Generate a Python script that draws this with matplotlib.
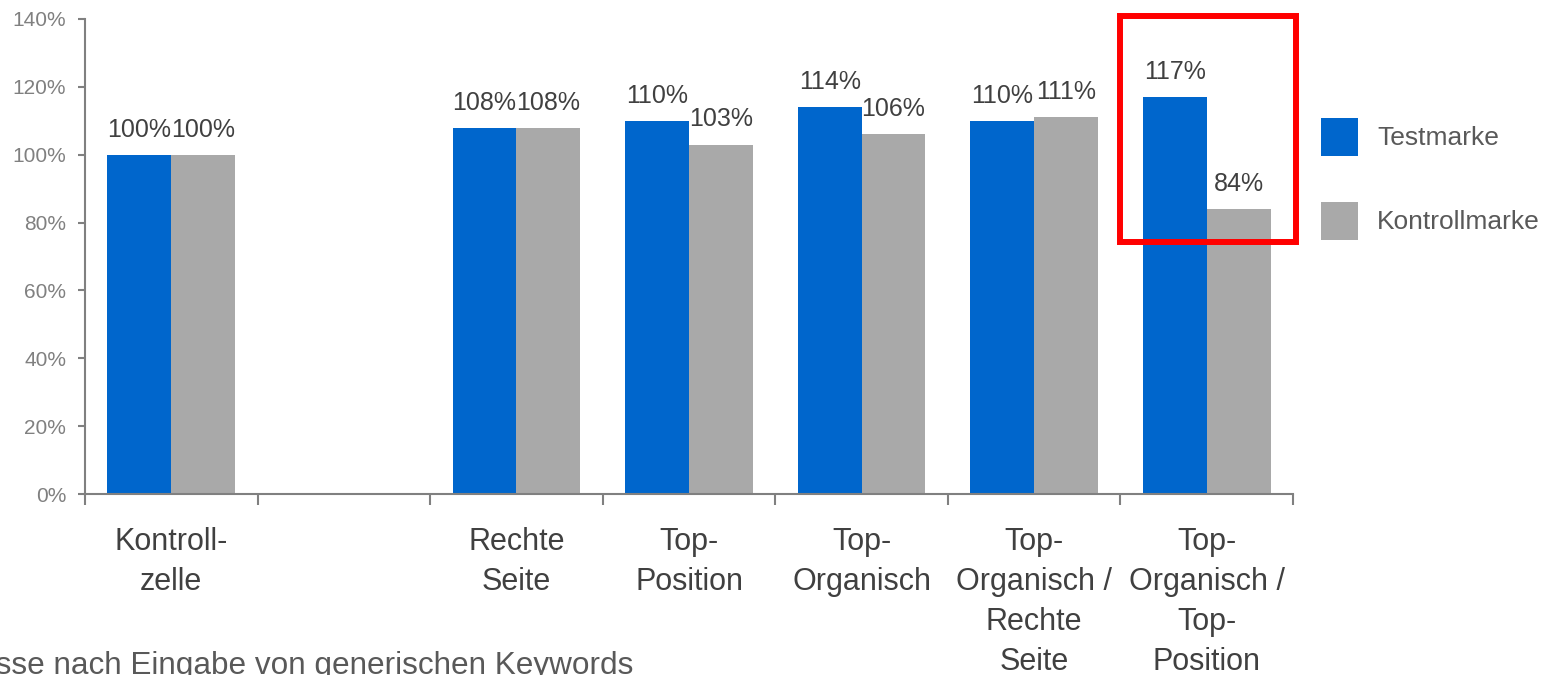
import matplotlib
matplotlib.use("Agg")
import matplotlib.pyplot as plt
import numpy as np
from matplotlib.patches import Rectangle, Patch

plt.rcParams['font.family'] = ['Liberation Sans', 'DejaVu Sans']

categories = ["Kontroll-\nzelle", "", "Rechte\nSeite", "Top-\nPosition", "Top-\nOrganisch",
              "Top-\nOrganisch /\nRechte\nSeite", "Top-\nOrganisch /\nTop-\nPosition"]
testmarke = [100, np.nan, 108, 110, 114, 110, 117]
kontrollmarke = [100, np.nan, 108, 103, 106, 111, 84]
series_names = ["Testmarke", "Kontrollmarke"]
yticks = [0, 20, 40, 60, 80, 100, 120, 140]
footnote = "Ergebnisse nach Eingabe von generischen Keywords"

BLUE = "#0066CC"
GRAY = "#A9A9A9"
AXC = "#808080"
TXT = "#404040"

W, H = 1553, 675
fig = plt.figure(figsize=(W / 100, H / 100), dpi=100)
ax = fig.add_axes([85 / W, (H - 494) / H, 1208 / W, 475 / H])

x = np.arange(len(categories))
bw = 0.37
b1 = ax.bar(x - bw / 2, testmarke, bw, color=BLUE, label=series_names[0])
b2 = ax.bar(x + bw / 2, kontrollmarke, bw, color=GRAY, label=series_names[1])

for bars, vals in ((b1, testmarke), (b2, kontrollmarke)):
    for rect, v in zip(bars, vals):
        if np.isnan(v):
            continue
        ax.annotate(f"{v:.0f}%", (rect.get_x() + rect.get_width() / 2, v),
                    xytext=(0, 13), textcoords="offset points",
                    ha="center", va="baseline", fontsize=18, color=TXT)

ax.set_xlim(-0.5, len(categories) - 0.5)
ax.set_ylim(0, 140)
ax.set_yticks(yticks)
ax.set_yticklabels([f"{t}%" for t in yticks])
ax.tick_params(axis="y", length=5, width=1.5, color=AXC, labelcolor=AXC,
               labelsize=15, pad=8.6)

ax.set_xticks(x)
ax.set_xticklabels(categories, fontsize=22, color=TXT, linespacing=1.43)
ax.set_xticks(np.arange(-0.5, len(categories)), minor=True)
ax.tick_params(axis="x", which="major", length=0, pad=24)
ax.tick_params(axis="x", which="minor", length=8, width=1.5, color=AXC)

for s in ["top", "right"]:
    ax.spines[s].set_visible(False)
for s in ["left", "bottom"]:
    ax.spines[s].set_color(AXC)
    ax.spines[s].set_linewidth(1.5)

handles = [Patch(facecolor=BLUE, edgecolor="none"), Patch(facecolor=GRAY, edgecolor="none")]
leg = fig.legend(handles, series_names, loc="upper left",
                 bbox_to_anchor=(1321 / W, 1 - 118 / H), frameon=False,
                 fontsize=19, handlelength=1.4, handleheight=1.837,
                 handletextpad=0.72, labelspacing=1.74, borderpad=0, borderaxespad=0)
for t in leg.get_texts():
    t.set_color("#595959")

fig.add_artist(Rectangle((1119.7 / W, 1 - 242 / H), (1296 - 1119.7) / W, (242 - 16.3) / H,
                         transform=fig.transFigure, fill=False, edgecolor="#FF0000",
                         linewidth=4.3))

fig.text(-113 / W, 1 - 674 / H, footnote, fontsize=22.7, color="#595959",
         ha="left", va="baseline")

fig.savefig("out.png", dpi=100)
